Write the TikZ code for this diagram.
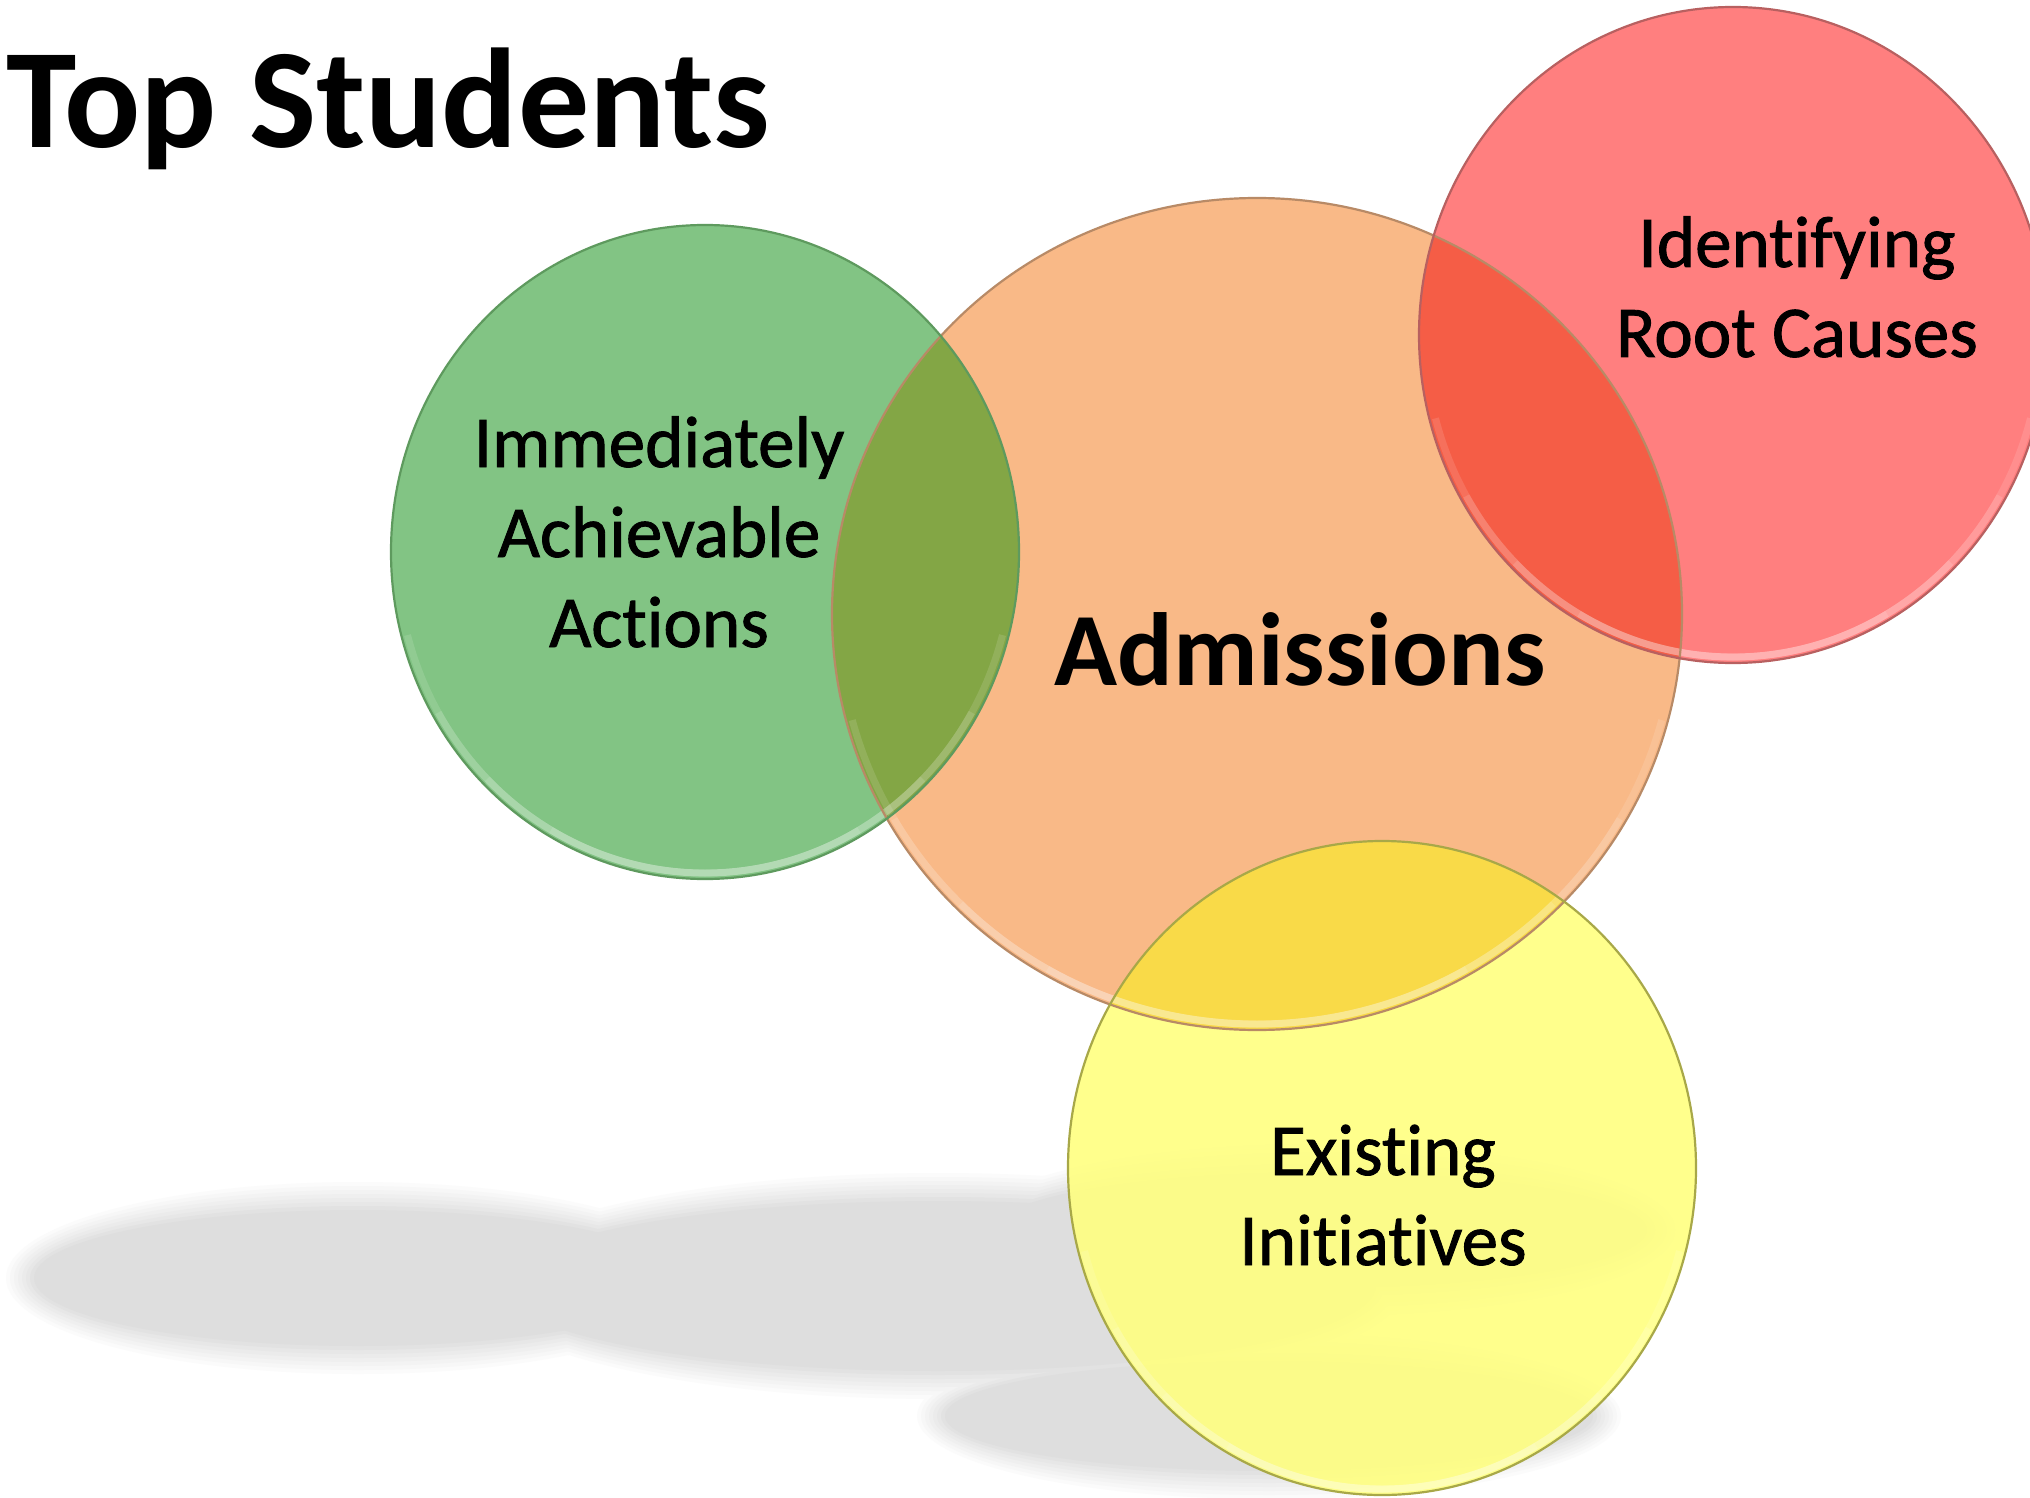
\documentclass[tikz,border=0pt]{standalone}
\usepackage{fontspec}
\setmainfont[Ligatures=NoCommon]{Carlito}
\newfontfamily\labfont[Ligatures=NoCommon,FakeBold=1.2]{Carlito}
\definecolor{gfill}{HTML}{82C484}
\definecolor{gline}{HTML}{5E9A5E}
\definecolor{ofill}{HTML}{F9B987}
\definecolor{oline}{HTML}{B88A66}
\definecolor{rfill}{HTML}{FF7F7F}
\definecolor{rline}{HTML}{B86060}
\definecolor{yfill}{HTML}{FFFF80}
\definecolor{yline}{HTML}{A8A848}
\definecolor{go}{HTML}{83A645}
\definecolor{ro}{HTML}{F55D46}
\definecolor{yo}{HTML}{F9DA48}
\tikzset{
  rim/.style={line width=1.1pt},
  label/.style={font=\labfont\fontsize{36.5}{45}\selectfont, align=center, inner sep=0pt, text=black},
  bevel/.style={white, opacity=0.12, line width=3.5pt}
}
\begin{document}
\begin{tikzpicture}[x=0.5pt,y=-0.5pt]
\useasboundingbox (0,0) rectangle (2030,1498);
\fill[white] (0,0) rectangle (2030,1498);
% reflections / shadows (soft-edged union)
\foreach \k in {0,...,7}{
  \foreach \cx/\cy/\rx/\ry in {358/1278/336/80, 938/1286/450/97, 1320/1230/339/70, 1269/1416/336/67}{
    \pgfmathsetmacro{\lev}{1.6*(\k+1)}
    \fill[black!\lev] (\cx,\cy) ellipse [x radius={\rx+16-4*\k}, y radius={\ry+16-4*\k}];
  }
}
% circle fills
\fill[ofill] (1257,614) ellipse [x radius=425, y radius=416];
\fill[gfill] (705,552) ellipse [x radius=314, y radius=327];
\fill[rfill] (1733,335) ellipse [x radius=314, y radius=328];
\fill[yfill, fill opacity=0.9] (1382,1168) ellipse [x radius=314, y radius=327];
% overlaps
\begin{scope}
  \clip (1257,614) ellipse [x radius=425, y radius=416];
  \fill[go] (705,552) ellipse [x radius=314, y radius=327];
  \fill[ro] (1733,335) ellipse [x radius=314, y radius=328];
  \fill[yo] (1382,1168) ellipse [x radius=314, y radius=327];
\end{scope}
% bevel highlights (lower rim, fading towards the ends)
\foreach \cx/\cy/\rx/\ry in {1257/614/425/416, 705/552/314/327, 1733/335/314/328, 1382/1168/314/327}{
  \foreach \a/\b in {15/165, 30/150, 45/135, 60/120}{
    \draw[bevel] (\cx,\cy) ++(\a:{\rx-6} and {\ry-6}) arc [start angle=\a, end angle=\b, x radius={\rx-6}, y radius={\ry-6}];
  }
}
% outlines
\draw[rim, oline] (1257,614) ellipse [x radius=425, y radius=416];
\draw[rim, gline] (705,552) ellipse [x radius=314, y radius=327];
\draw[rim, rline] (1733,335) ellipse [x radius=314, y radius=328];
\draw[rim, yline] (1382,1168) ellipse [x radius=314, y radius=327];
% texts
\node[font=\fontsize{71}{80}\selectfont\bfseries, anchor=base west, inner sep=0pt] (title) at (6,148) {Top Students};
\node[font=\fontsize{52}{60}\selectfont\bfseries, anchor=base, inner sep=0pt] (adm) at (1300,685) {Admissions};
\node[label, anchor=base] (iaa) at (659,647) {Immediately\\Achievable\\Actions};
\node[label, anchor=base] (irc) at (1797,357) {Identifying\\Root Causes};
\node[label, anchor=base] (ei) at (1383,1265) {Existing\\Initiatives};
\end{tikzpicture}
\end{document}
